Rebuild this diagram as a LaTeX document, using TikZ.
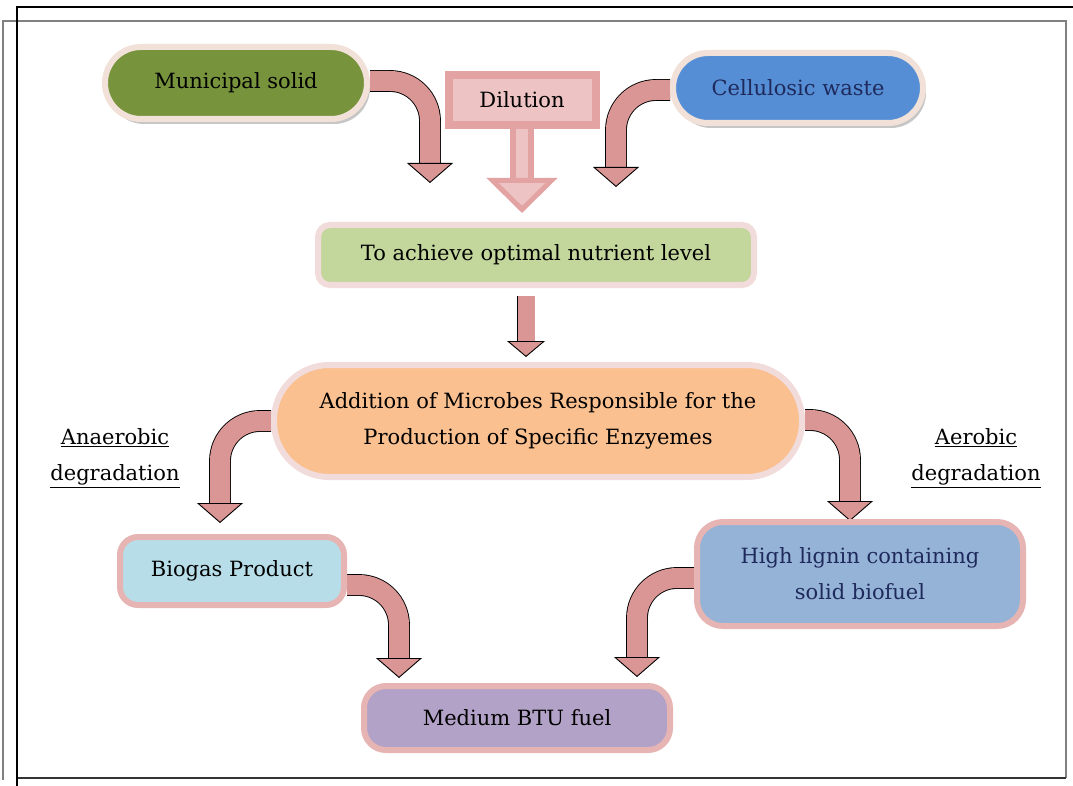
\documentclass[tikz,border=0pt]{standalone}
\usepackage{fontspec}
\setmainfont{DejaVu Serif}
\usetikzlibrary{arrows.meta,shadows,backgrounds}

\definecolor{arrowpink}{HTML}{D99694}
\definecolor{dilframe}{HTML}{E3A3A3}
\definecolor{dilinner}{HTML}{EEC3C3}
\definecolor{creamrim}{HTML}{F1E1D8}
\definecolor{lightrim}{HTML}{F2DCDB}
\definecolor{pinkrim}{HTML}{E6B4B3}
\definecolor{munfill}{HTML}{77933C}
\definecolor{celfill}{HTML}{558ED5}
\definecolor{optfill}{HTML}{C3D69B}
\definecolor{micfill}{HTML}{FAC090}
\definecolor{biofill}{HTML}{B7DEE8}
\definecolor{ligfill}{HTML}{95B3D7}
\definecolor{btufill}{HTML}{B3A2C7}
\definecolor{navytext}{HTML}{1F2A5C}

\begin{document}
\begin{tikzpicture}[x=1pt,y=-1pt,
    txt/.style={font=\fontsize{21}{36}\selectfont, align=center},
    box/.style={txt, draw=#1, line width=6pt, inner sep=0pt},
    bendarrow/.style={
        draw=black, line width=0.9pt,
        double=arrowpink, double distance=20pt,
        rounded corners=40pt,
        -{Triangle[width=46pt,length=20pt,fill=arrowpink,line width=0.9pt]}
    },
    downarrow/.style={
        draw=black, line width=0.9pt,
        double=arrowpink, double distance=17pt,
        -{Triangle[width=38pt,length=16pt,fill=arrowpink,line width=0.9pt]}
    },
    dilarrow/.style={
        draw=dilframe, line width=6pt,
        double=dilinner, double distance=12pt,
        -{Triangle[width=70pt,length=35pt,fill=dilinner,line width=5pt]}
    },
    softshadow/.style={drop shadow={shadow xshift=3pt, shadow yshift=-5pt,
        opacity=0.45, fill=gray}}
]
    \useasboundingbox (0,0) rectangle (1073,786);

    % Frame
    \draw[gray, line width=1.2pt] (3,780) -- (3,21) -- (1066,21) -- (1066,778);
    \draw[black!80, line width=1.4pt] (17,778) -- (1066,778);
    \draw[black, line width=1.6pt] (17,786) -- (17,7) -- (1073,7);

    % Inputs
    \node[box=creamrim, fill=munfill, rounded corners=36pt,
        minimum width=262pt, minimum height=72pt, softshadow]
        (mun) at (236,83) {Municipal solid};

    \node[box=dilframe, fill=dilinner, line width=8pt,
        minimum width=147pt, minimum height=50pt]
        (dil) at (522,100) {Dilution};

    \node[box=creamrim, fill=celfill, rounded corners=35pt,
        minimum width=250pt, minimum height=70pt, softshadow,
        text=navytext]
        (cel) at (798,88) {Cellulosic waste};

    % Middle steps
    \node[box=lightrim, fill=optfill, rounded corners=12pt,
        minimum width=436pt, minimum height=60pt]
        (opt) at (536,255) {To achieve optimal nutrient level};

    \node[box=lightrim, fill=micfill, rounded corners=55pt,
        minimum width=528pt, minimum height=112pt]
        (mic) at (538,421)
        {Addition of Microbes Responsible for the\\
         Production of Specific Enzyemes};

    % Products
    \node[box=pinkrim, fill=biofill, rounded corners=18pt,
        minimum width=224pt, minimum height=68pt]
        (bio) at (232,571) {Biogas Product};

    \node[box=pinkrim, fill=ligfill, rounded corners=26pt,
        minimum width=326pt, minimum height=104pt, text=navytext]
        (lig) at (860,574) {High lignin containing\\ solid biofuel};

    \node[box=pinkrim, fill=btufill, rounded corners=22pt,
        minimum width=306pt, minimum height=64pt]
        (btu) at (517,718) {Medium BTU fuel};

    % Labels
    \node[txt] (anaer) at (115,458)
        {\underline{Anaerobic}\\ \underline{degradation}};
    \node[txt] (aer) at (976,458)
        {\underline{Aerobic}\\ \underline{degradation}};

    % Arrow tips
    \coordinate (munTip) at (430,183);
    \coordinate (celTip) at (616,187);
    \coordinate (dilTip) at (522,213);
    \coordinate (optTip) at (526,357);
    \coordinate (anTip)  at (220,523);
    \coordinate (aeTip)  at (850,521);
    \coordinate (bioTip) at (399,678);
    \coordinate (ligTip) at (637,677);

    % Arrows
    \begin{pgfonlayer}{background}
        \draw[bendarrow] ([yshift=2pt]mun.east) -| (munTip);
        \draw[bendarrow] ([yshift=-2pt]cel.west) -| (celTip);
        \draw[dilarrow] (dil.south) -- (dilTip);
        \draw[downarrow, shorten <=8pt] (optTip |- opt.south) -- (optTip);
        \draw[bendarrow] (mic.west) -| (anTip);
        \draw[bendarrow] ([yshift=1pt]mic.east) -| (aeTip);
        \draw[bendarrow] ([yshift=-14pt]bio.east) -| (bioTip);
        \draw[bendarrow] ([yshift=-4pt]lig.west) -| (ligTip);
    \end{pgfonlayer}

\end{tikzpicture}
\end{document}
